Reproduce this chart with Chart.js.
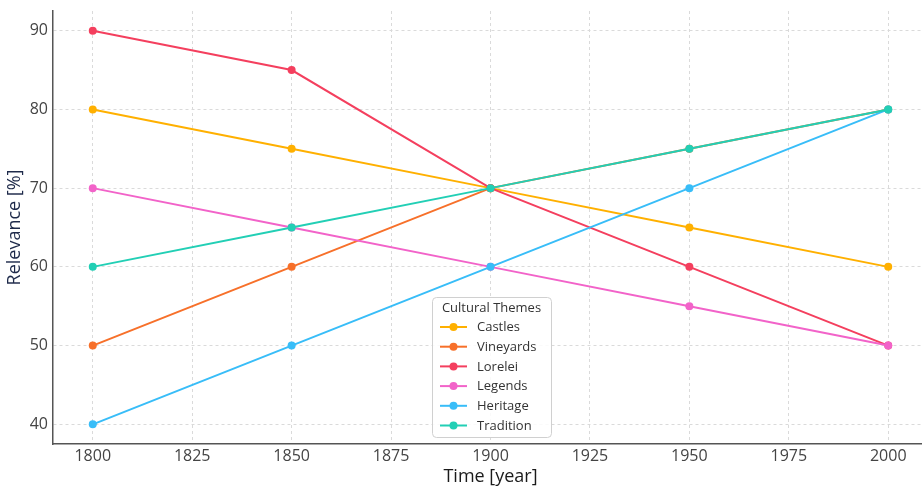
<!DOCTYPE html>
<html>
<head>
<meta charset="utf-8">
<script src="https://cdn.jsdelivr.net/npm/chart.js@4/dist/chart.umd.min.js"></script>
<style>
  html, body { margin: 0; padding: 0; overflow: hidden; background: #fff; width: 922px; height: 490px; }
  #wrap { position: absolute; left: 0; top: 0; width: 932px; height: 490px; }
</style>
</head>
<body>
<div id="wrap"><canvas id="c" width="932" height="490"></canvas></div>
<script>
const years = [1800, 1850, 1900, 1950, 2000];
const castles   = [80, 75, 70, 65, 60];
const vineyards = [50, 60, 70, 75, 80];
const lorelei   = [90, 85, 70, 60, 50];
const legends   = [70, 65, 60, 55, 50];
const heritage  = [40, 50, 60, 70, 80];
const tradition = [60, 65, 70, 75, 80];
const xTicks = [1800, 1825, 1850, 1875, 1900, 1925, 1950, 1975, 2000];
const yTicks = [40, 50, 60, 70, 80, 90];
const seriesNames = ['Castles', 'Vineyards', 'Lorelei', 'Legends', 'Heritage', 'Tradition'];
const seriesData = [castles, vineyards, lorelei, legends, heritage, tradition];
const colors = ['#ffb000', '#f7702a', '#f43f5e', '#f263c9', '#38bdf8', '#22cfb5'];
const legendTitle = 'Cultural Themes';

const FONT = "'Open Sans', 'Noto Sans', sans-serif";

const datasets = seriesNames.map((name, i) => ({
  label: name,
  data: years.map((y, k) => ({x: y, y: seriesData[i][k]})),
  borderColor: colors[i],
  backgroundColor: colors[i],
  pointBackgroundColor: colors[i],
  pointBorderColor: colors[i],
  borderWidth: 2,
  pointRadius: 4,
  pointBorderWidth: 0,
  tension: 0,
  fill: false,
  order: seriesNames.length - i
}));

const legendPlugin = {
  id: 'boxLegend',
  afterDatasetsDraw(chart) {
    const ctx = chart.ctx;
    const x0 = 432, y0 = 297, w = 119, h = 140;
    ctx.save();
    ctx.beginPath();
    ctx.roundRect(x0 + 0.5, y0 + 0.5, w, h, 4);
    ctx.fillStyle = 'rgba(255,255,255,0.85)';
    ctx.fill();
    ctx.strokeStyle = '#d0d0d0';
    ctx.lineWidth = 1;
    ctx.stroke();
    ctx.font = "13px " + FONT;
    ctx.fillStyle = '#333';
    ctx.textAlign = 'center';
    ctx.textBaseline = 'middle';
    ctx.fillText(legendTitle, x0 + w / 2, y0 + 11);
    chart.data.datasets.forEach((ds, i) => {
      const yy = 327 + i * 19.7;
      ctx.strokeStyle = ds.borderColor;
      ctx.lineWidth = 2;
      ctx.beginPath();
      ctx.moveTo(440, yy);
      ctx.lineTo(467, yy);
      ctx.stroke();
      ctx.fillStyle = ds.borderColor;
      ctx.beginPath();
      ctx.arc(453.5, yy, 4, 0, Math.PI * 2);
      ctx.fill();
      ctx.fillStyle = '#333';
      ctx.textAlign = 'left';
      ctx.fillText(ds.label, 477, yy + 0.5);
    });
    ctx.restore();
  }
};

new Chart(document.getElementById('c'), {
  type: 'line',
  data: { datasets },
  plugins: [legendPlugin],
  options: {
    responsive: false,
    animation: false,
    devicePixelRatio: 1,
    layout: { padding: { top: 11, right: 4, left: 0, bottom: 0 } },
    plugins: { legend: { display: false }, tooltip: { enabled: false } },
    scales: {
      x: {
        type: 'linear',
        min: 1790, max: 2010,
        afterBuildTicks: (s) => { s.ticks = xTicks.map(v => ({value: v})); },
        afterFit: (s) => { s.height = 46; s.paddingLeft = 0; s.paddingRight = 0; },
        grid: { color: '#dadada', lineWidth: 1, drawTicks: false, tickLength: 0 },
        border: { display: true, color: '#555', width: 1.5, dash: [3, 3] },
        ticks: { color: '#444', font: { family: FONT, size: 16 }, padding: 3, maxRotation: 0, autoSkip: false, callback: v => String(v) },
        title: { display: true, text: 'Time [year]', color: '#1a1a1a', font: { family: FONT, size: 18 }, padding: { top: 0, bottom: 2 } }
      },
      y: {
        type: 'linear',
        min: 37.5, max: 92.5,
        afterBuildTicks: (s) => { s.ticks = yTicks.map(v => ({value: v})); },
        afterFit: (s) => { s.width = 53; s.paddingTop = 0; s.paddingBottom = 0; },
        grid: { color: '#dadada', lineWidth: 1, drawTicks: false, tickLength: 0 },
        border: { display: true, color: '#555', width: 1.5, dash: [3, 3] },
        ticks: { color: '#444', font: { family: FONT, size: 16 }, padding: 5, autoSkip: false, callback: v => String(v) },
        title: { display: true, text: 'Relevance [%]', color: '#1e2a4a', font: { family: FONT, size: 18 }, padding: { top: 4, bottom: 0 } }
      }
    }
  }
});
</script>
</body>
</html>
